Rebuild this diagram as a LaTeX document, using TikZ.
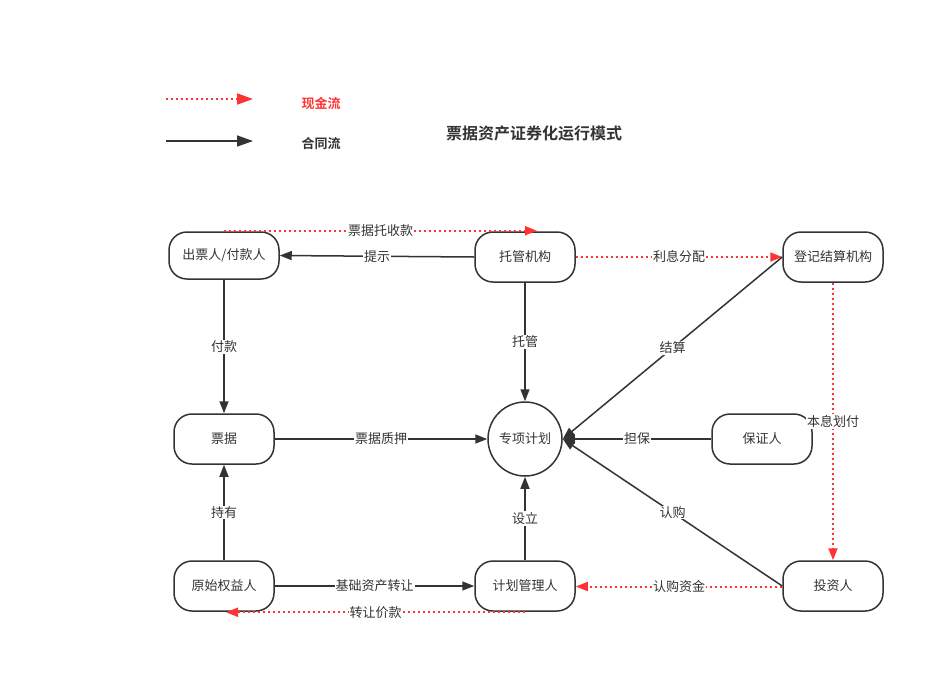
\documentclass[tikz,border=0pt]{standalone}
\usepackage{fontspec}
\setmainfont{Noto Sans CJK SC}
\newfontfamily\cjkbold{Noto Sans CJK SC Bold}
\usetikzlibrary{arrows.meta}
\definecolor{ink}{HTML}{333333}
\definecolor{cash}{HTML}{FF3333}
\tikzset{
  box/.style={draw=ink, line width=1.5pt, rounded corners=18pt, minimum width=100pt, minimum height=50pt, font=\fontsize{13pt}{15pt}\selectfont, text=ink, inner sep=0pt},
  round/.style={draw=ink, line width=1.5pt, circle, minimum size=74pt, font=\fontsize{13pt}{15pt}\selectfont, text=ink, inner sep=0pt},
  contract/.style={draw=ink, line width=1.5pt, -{Triangle[length=12pt,width=9pt]}},
  cashflow/.style={draw=cash, line width=2pt, dash pattern=on 2pt off 3pt, -{Triangle[length=12pt,width=9pt,fill=cash]}},
  lab/.style={fill=white, inner sep=1pt, font=\fontsize{13pt}{15pt}\selectfont, text=ink},
}
\begin{document}
\begin{tikzpicture}[x=1pt,y=-1pt]
\useasboundingbox (0,0) rectangle (945,673);
% legend
\coordinate (l1a) at (166,99); \coordinate (l1b) at (253,99);
\coordinate (l2a) at (166,141); \coordinate (l2b) at (253,141);
\draw[cashflow, -{Triangle[length=16pt,width=11pt,fill=cash]}] (l1a) -- (l1b);
\draw[contract, -{Triangle[length=16pt,width=11pt]}] (l2a) -- (l2b);
\node[text=cash, font=\cjkbold\fontsize{13pt}{15pt}\selectfont] (lg1) at (321,103) {现金流};
\node[text=ink, font=\cjkbold\fontsize{13pt}{15pt}\selectfont] (lg2) at (321,144) {合同流};
\node[text=ink, font=\cjkbold\fontsize{16pt}{18pt}\selectfont] (title) at (534,133) {票据资产证券化运行模式};
% nodes
\node[box, minimum width=110pt, minimum height=47pt] (cp) at (224,255.5) {出票人/付款人};
\node[box] (tg) at (525,257) {托管机构};
\node[box] (dj) at (833,257) {登记结算机构};
\node[box] (pj) at (224,439) {票据};
\node[round] (zx) at (525,439) {专项计划};
\node[box] (bz) at (762,439) {保证人};
\node[box] (ys) at (224,586) {原始权益人};
\node[box] (jh) at (525,586) {计划管理人};
\node[box] (tz) at (833,586) {投资人};
% cash flows
\draw[cashflow] ([yshift=0.5pt]cp.north) -- ([xshift=12pt,yshift=0.5pt]tg.north) node[lab, pos=0.5] {票据托收款};
\draw[cashflow] (tg.east) -- (dj.west) node[lab, midway] {利息分配};
\draw[cashflow] (dj.south) -- (tz.north) node[lab, pos=0.5] {本息划付};
\draw[cashflow] ([yshift=-0.5pt]tz.west) -- ([yshift=-0.5pt]jh.east) node[lab, midway] {认购资金};
\draw[cashflow] ([yshift=-0.5pt]jh.south) -- ([xshift=2pt,yshift=-0.5pt]ys.south) node[lab, midway] {转让价款};
% contract flows
\draw[contract] (tg.west) -- (cp.east) node[lab, midway] {提示};
\draw[contract] (cp.south) -- (pj.north) node[lab, midway] {付款};
\draw[contract] (tg.south) -- (zx.north) node[lab, midway] {托管};
\draw[contract] (pj.east) -- (zx.west) node[lab, midway] {票据质押};
\draw[contract] (dj.west) -- (zx.east) node[lab, midway] {结算};
\draw[contract] (bz.west) -- (zx.east) node[lab, midway] {担保};
\draw[contract] (tz.west) -- (zx.east) node[lab, midway] {认购};
\draw[contract] (ys.north) -- (pj.south) node[lab, midway] {持有};
\draw[contract] (jh.north) -- (zx.south) node[lab, midway] {设立};
\draw[contract] (ys.east) -- (jh.west) node[lab, midway] {基础资产转让};
\end{tikzpicture}
\end{document}
